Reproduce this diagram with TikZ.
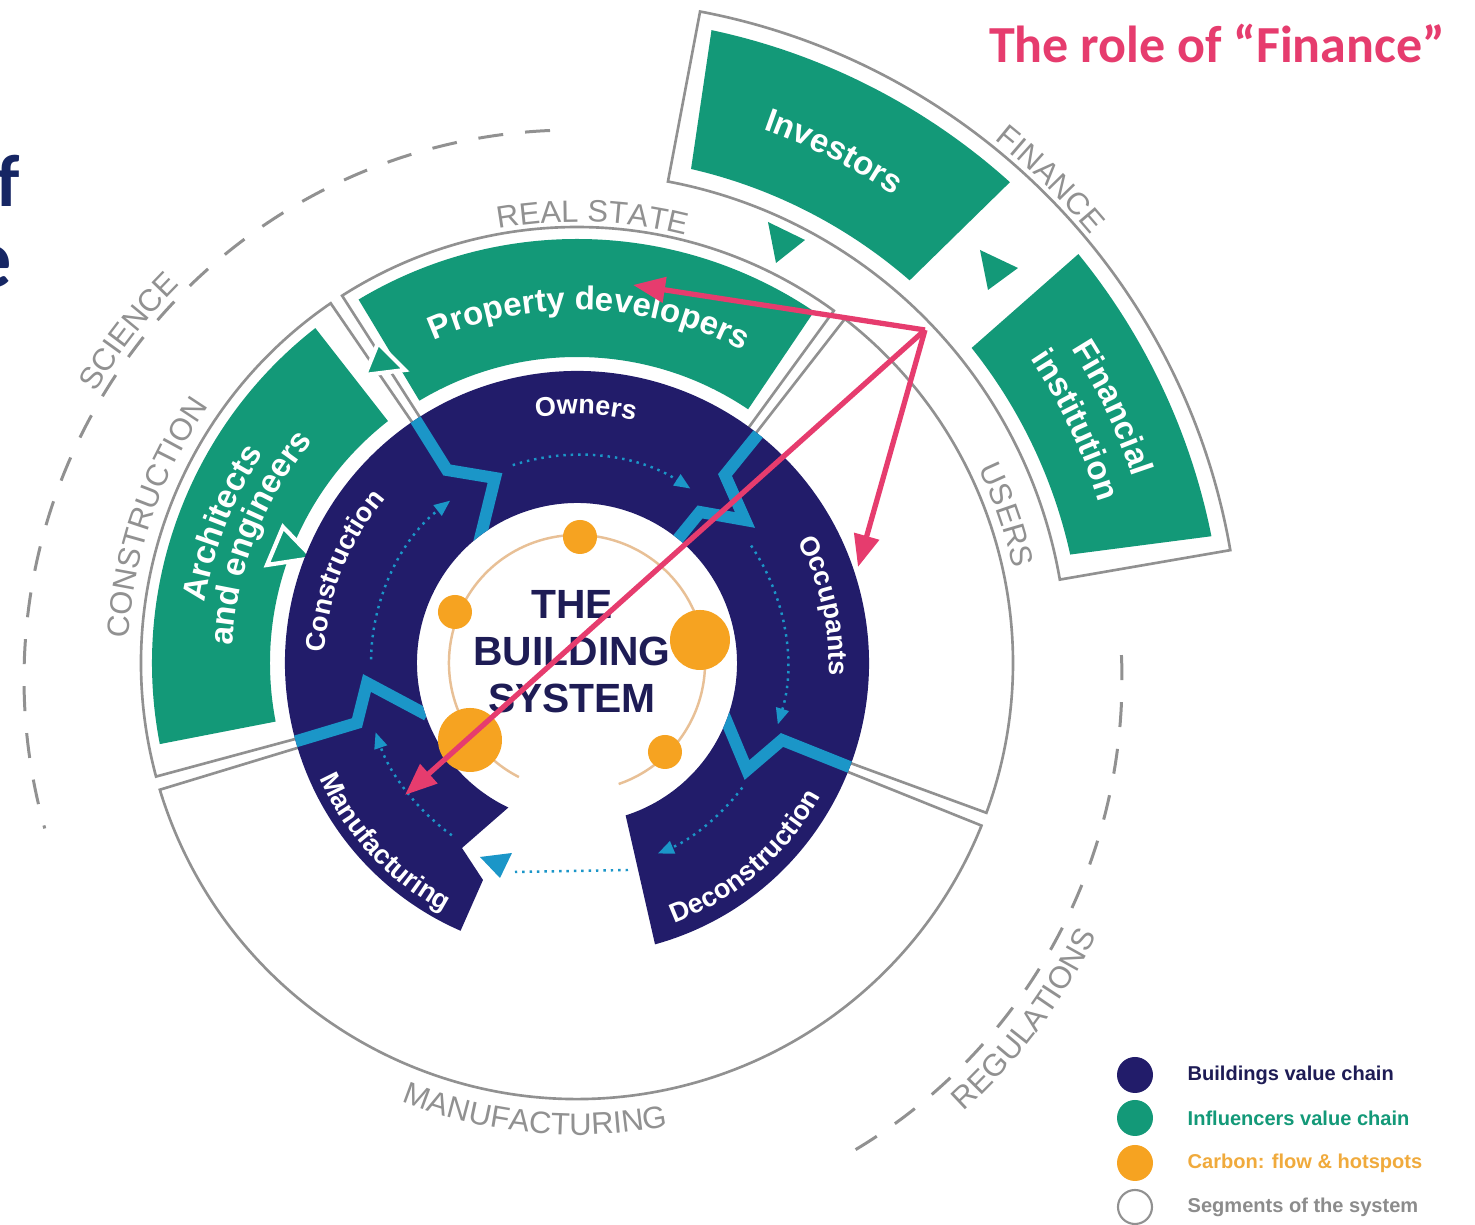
\documentclass[tikz,border=0pt]{standalone}
\usepackage{fontspec}
\usetikzlibrary{arrows.meta,decorations.text}
\setmainfont{Liberation Sans}
\newfontfamily\calfont{Carlito}

\definecolor{ringnavy}{RGB}{34,28,106}
\definecolor{chaingreen}{RGB}{19,153,120}
\definecolor{flowblue}{RGB}{27,150,200}
\definecolor{carbonorange}{RGB}{246,163,33}
\definecolor{carbonline}{RGB}{232,192,150}
\definecolor{seggray}{RGB}{145,145,145}
\definecolor{rolepink}{RGB}{230,60,110}
\definecolor{headnavy}{RGB}{22,38,100}
\definecolor{textnavy}{RGB}{30,28,85}
\definecolor{legorange}{RGB}{240,170,60}
\definecolor{leggray}{RGB}{140,140,140}

% text set along an arc around the centre: radius, start, end, format, text
\newcommand\bentlabel[5]{%
  \path[decorate,decoration={text along path,text align=center,
    text={|#4|#5}}] (#2:#1) arc[start angle=#2,end angle=#3,radius=#1];}

\newcommand\ringfont{\fontsize{7.7}{8}\selectfont\bfseries\color{white}}
\newcommand\greenfont{\fontsize{9.4}{10}\selectfont\bfseries\color{white}}
\newcommand\segfont{\fontsize{8.8}{9}\selectfont\color{seggray}}

\begin{document}
\begin{tikzpicture}[x=0.01cm,y=0.01cm,
  segline/.style={seggray,line width=0.75pt},
  dashring/.style={seggray,line width=0.85pt,dash pattern=on 0.25cm off 0.22cm},
  zigband/.style={flowblue,line width=3.4pt,line join=miter},
  flowdots/.style={flowblue,line width=0.7pt,dash pattern=on 0.7pt off 1.4pt,
    -{Triangle[length=0.16cm,width=0.13cm]}},
  pinkarrow/.style={rolepink,line width=1.5pt,
    -{Triangle[length=0.32cm,width=0.25cm]}},
  greentri/.style={fill=chaingreen,draw=white,line width=1.2pt,line join=miter},
  legtext/.style={anchor=west,inner sep=0pt,font=\fontsize{5.7}{6}\selectfont\bfseries}]

\fill[white] (-577,-562) rectangle (898,663);
\useasboundingbox (-577,-562) rectangle (898,663);

% ---- outer dashed ring: science and regulations
\begin{scope}[shift={(-4,-16)}]
  \draw[dashring] (92.4:549) arc[start angle=92.4,end angle=195.8,radius=549];
  \draw[dashring] (2.5:549) arc[start angle=2.5,end angle=-59.8,radius=549];
  \bentlabel{557}{157}{127}{\segfont}{SCIENCE}
  \bentlabel{583}{-67}{-7}{\segfont}{REGULATIONS}
\end{scope}

% ---- segments of the system
\draw[segline] (124.4:280) -- (124.4:436) arc[start angle=124.4,end angle=195.1,radius=436] -- (195.1:280);
\draw[segline] (196.9:280) -- (196.9:436) arc[start angle=196.9,end angle=338.1,radius=436] -- (338.1:280);
\draw[segline] (-20.1:280) -- (-20.1:436) arc[start angle=-20.1,end angle=52.1,radius=436] -- (52.1:280);
\draw[segline] (53.9:280) -- (53.9:436) arc[start angle=53.9,end angle=122.6,radius=436] -- (122.6:280);
\draw[segline] (79.3:490) -- (79.3:663) arc[start angle=79.3,end angle=9.8,radius=663]
  -- (9.8:490) arc[start angle=9.8,end angle=79.3,radius=490] -- cycle;

\bentlabel{441}{108}{68}{\segfont}{REAL STATE}
\bentlabel{449}{181}{141}{\segfont}{CONSTRUCTION}
\bentlabel{446}{39}{-1}{\segfont}{USERS}
\bentlabel{472}{234.7}{294.7}{\segfont}{MANUFACTURING}
\bentlabel{669}{65.6}{25.6}{\segfont}{FINANCE}

% ---- influencers value chain
\fill[chaingreen] (128:425) arc[start angle=128,end angle=191,radius=425]
  -- (191:307) arc[start angle=191,end angle=128,radius=307] -- cycle;
\fill[chaingreen] (56:424) arc[start angle=56,end angle=121,radius=424]
  -- (121:306) arc[start angle=121,end angle=56,radius=306] -- cycle;
\fill[chaingreen] (78:647) arc[start angle=78,end angle=48,radius=647]
  -- (49:507) arc[start angle=49,end angle=77,radius=507] -- cycle;
\fill[chaingreen] (39.2:647) arc[start angle=39.2,end angle=11.3,radius=647]
  -- (12.4:505) arc[start angle=12.4,end angle=38.6,radius=505] -- cycle;

\bentlabel{353}{128}{48}{\greenfont}{Property developers}
\bentlabel{565}{83.3}{43.3}{\greenfont}{Investors}
\bentlabel{377}{188.5}{128.5}{\greenfont}{Architects}
\bentlabel{345}{188.5}{128.5}{\greenfont}{and engineers}
\bentlabel{586}{45.5}{5.5}{\greenfont}{Financial}
\bentlabel{546}{45.5}{5.5}{\greenfont}{institution}

% flow triangles between influencers
\fill[chaingreen] (191,441) -- (228,423) -- (199,400) -- cycle;
\fill[chaingreen] (403,413) -- (441,395) -- (411,373) -- cycle;
\draw[greentri] (-310,98) -- (-294,136) -- (-264,105) -- cycle;
\draw[greentri] (-212,288) -- (-199,320) -- (-172,293) -- cycle;

% ---- buildings value chain ring
\fill[ringnavy] (-74.5:292) arc[start angle=-74.5,end angle=246.5,radius=292]
  -- (-94,-217) -- (-115,-185) -- (244.6:160)
  arc[start angle=244.6,end angle=-72.3,radius=160] -- cycle;
\begin{scope}
  \clip (-74.5:292) arc[start angle=-74.5,end angle=246.5,radius=292]
    -- (-94,-217) -- (-115,-185) -- (244.6:160)
    arc[start angle=244.6,end angle=-72.3,radius=160] -- cycle;
  \draw[zigband] (-175,265) -- (-130,193) -- (-82,185) -- (-98,120);
  \draw[zigband] (195,246) -- (148,188) -- (168,143) -- (123,151) -- (92,113);
  \draw[zigband] (142,-40) -- (170,-107) -- (205,-77) -- (295,-113);
  \draw[zigband] (-300,-84) -- (-220,-60) -- (-210,-20) -- (-150,-52);
\end{scope}

\draw[flowdots] (108:208) arc[start angle=108,end angle=57,radius=208];
\draw[flowdots] (34:210) arc[start angle=34,end angle=-17,radius=210];
\draw[flowdots] (-37:207) arc[start angle=-37,end angle=-67,radius=207];
\draw[flowdots] (234:213) arc[start angle=234,end angle=199,radius=213];
\draw[flowdots] (179:206) arc[start angle=179,end angle=128,radius=206];
\draw[flowblue,line width=0.7pt,dash pattern=on 0.7pt off 1.4pt] (51,-207) -- (-62,-209);
\fill[flowblue] (-97,-194) -- (-65,-190) -- (-77,-215) -- cycle;

\bentlabel{249}{128}{48}{\ringfont}{Owners}
\bentlabel{252}{198.5}{118.5}{\ringfont}{Construction}
\bentlabel{252}{53}{-27}{\ringfont}{Occupants}
\bentlabel{278}{-89}{-9}{\ringfont}{Deconstruction}
\bentlabel{282}{183}{263}{\ringfont}{Manufacturing}

% ---- carbon flow and hotspots
\draw[carbonline,line width=0.7pt] (-71:128) arc[start angle=-71,end angle=243,radius=128];
\fill[carbonorange] (3,126) circle[radius=17];
\fill[carbonorange] (-122,51) circle[radius=17];
\fill[carbonorange] (123,23) circle[radius=30];
\fill[carbonorange] (-107,-77) circle[radius=32];
\fill[carbonorange] (88,-89) circle[radius=17];

\node[align=center,text=textnavy,font=\fontsize{11.6}{13.4}\selectfont\bfseries]
  (core) at (-5,11) {THE\\BUILDING\\SYSTEM};

% ---- the role of finance
\coordinate (fin) at (348,333);
\coordinate (pd) at (56,378);
\coordinate (occ) at (281,96);
\coordinate (mfg) at (-172,-132);
\draw[pinkarrow] (fin) -- (pd);
\draw[pinkarrow] (fin) -- (occ);
\draw[pinkarrow] (fin) -- (mfg);

\node[anchor=base,text=rolepink,font=\calfont\bfseries\fontsize{14.8}{16}\selectfont]
  (title) at (640,600) {The role of “Finance”};
\node[anchor=base east,inner sep=0pt,text=headnavy,font=\calfont\bfseries\fontsize{21}{22}\selectfont]
  (headf) at (-556,456) {f};
\node[anchor=base east,inner sep=0pt,text=headnavy,font=\calfont\bfseries\fontsize{24}{25}\selectfont]
  (heade) at (-564,375) {e};

% ---- legend
\fill[ringnavy] (558,-412) circle[radius=18];
\fill[chaingreen] (558,-455) circle[radius=18];
\fill[carbonorange] (558,-500) circle[radius=18];
\draw[seggray,line width=0.6pt] (558,-544) circle[radius=17];
\node[legtext,text=textnavy] (l1) at (610,-412) {Buildings value chain};
\node[legtext,text=chaingreen] (l2) at (610,-455) {Influencers value chain};
\node[legtext,text=legorange] (l3) at (610,-500) {Carbon: flow \& hotspots};
\node[legtext,text=leggray] (l4) at (610,-544) {Segments of the system};
\end{tikzpicture}
\end{document}
